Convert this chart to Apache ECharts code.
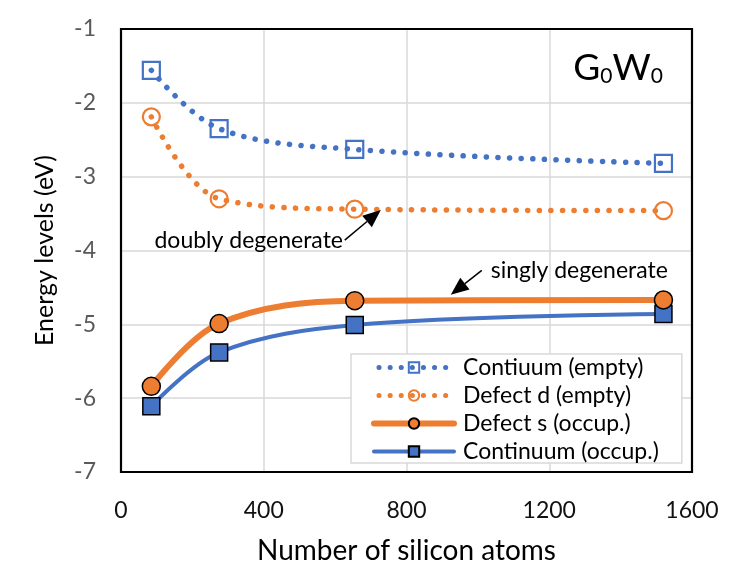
<!DOCTYPE html>
<html><head><meta charset="utf-8">
<script src="https://cdn.jsdelivr.net/npm/echarts@6/dist/echarts.min.js"></script>
<style>html,body{margin:0;padding:0;background:#fff}#c{width:747px;height:579px}</style>
</head><body><div id="c"></div>
<script>
const atoms = [85, 275, 655, 1520];
const contEmpty = [-1.56, -2.35, -2.63, -2.82];
const defectD = [-2.19, -3.30, -3.44, -3.46];
const defectS = [-5.84, -4.99, -4.68, -4.67];
const contOcc = [-6.11, -5.38, -5.01, -4.86];
const xTicks = [0, 400, 800, 1200, 1600];
const yTicks = [-7, -6, -5, -4, -3, -2, -1];
const names = ['Contiuum (empty)', 'Defect d (empty)', 'Defect s (occup.)', 'Continuum (occup.)'];

const BLUE = '#4472C4', ORANGE = '#ED7D31';
const FONT = 'Lato';
const pts = v => atoms.map((x, i) => [x, v[i]]);
const dotted = { type: [0.1, 11.5], cap: 'round', width: 5.5 };
const legendDotted = { type: [0.1, 11], cap: 'round', width: 5, dashOffset: -5 };
const SMOOTH = 0.35;

const chart = echarts.init(document.getElementById('c'), null, { renderer: 'canvas' });
chart.setOption({
  animation: false,
  textStyle: { fontFamily: FONT },
  grid: { left: 121, right: 55, top: 29, bottom: 107 },
  xAxis: {
    type: 'value', min: xTicks[0], max: xTicks[xTicks.length - 1], interval: 400,
    axisLine: { show: false }, axisTick: { show: false },
    splitLine: { lineStyle: { color: '#d9d9d9', width: 1.5 } },
    axisLabel: { color: '#111', fontSize: 23, margin: 27, fontFamily: FONT, formatter: v => String(v) },
    name: 'Number of silicon atoms', nameLocation: 'middle', nameGap: 65,
    nameTextStyle: { color: '#000', fontSize: 28, fontFamily: FONT }
  },
  yAxis: {
    type: 'value', min: yTicks[0], max: yTicks[yTicks.length - 1], interval: 1,
    axisLine: { show: false }, axisTick: { show: false },
    splitLine: { lineStyle: { color: '#d9d9d9', width: 1.5 } },
    axisLabel: { color: '#595959', fontSize: 23, margin: 25, fontFamily: FONT },
    name: 'Energy levels (eV)', nameLocation: 'middle', nameGap: 64,
    nameTextStyle: { color: '#000', fontSize: 25, fontFamily: FONT }
  },
  legend: {
    orient: 'vertical', left: 351, top: 354,
    backgroundColor: '#fff', borderColor: '#d9d9d9', borderWidth: 1.5,
    padding: [2, 23, 0, 20], itemGap: 5, itemWidth: 80, itemHeight: 13,
    textStyle: { fontSize: 23, color: '#000', fontFamily: FONT, padding: [0, 0, 0, 4] },
    data: [
      { name: names[0], lineStyle: Object.assign({ color: BLUE }, legendDotted) },
      { name: names[1], lineStyle: Object.assign({ color: ORANGE }, legendDotted) },
      { name: names[2], lineStyle: { color: ORANGE, width: 6, cap: 'round' } },
      { name: names[3], lineStyle: { color: BLUE, width: 4, cap: 'round' } }
    ]
  },
  series: [
    { name: names[0], type: 'line', smooth: SMOOTH, data: pts(contEmpty),
      symbol: 'rect', symbolSize: 17,
      itemStyle: { color: 'rgba(255,255,255,0)', borderColor: BLUE, borderWidth: 2.2 },
      lineStyle: Object.assign({ color: BLUE }, dotted), z: 3 },
    { name: names[1], type: 'line', smooth: SMOOTH, data: pts(defectD),
      symbol: 'circle', symbolSize: 17,
      itemStyle: { color: 'rgba(255,255,255,0)', borderColor: ORANGE, borderWidth: 2.2 },
      lineStyle: Object.assign({ color: ORANGE }, dotted), z: 3 },
    { name: names[2], type: 'line', smooth: SMOOTH, data: pts(defectS),
      symbol: 'circle', symbolSize: 18,
      itemStyle: { color: ORANGE, borderColor: '#000', borderWidth: 1.5 },
      lineStyle: { color: ORANGE, width: 6 }, z: 4 },
    { name: names[3], type: 'line', smooth: SMOOTH, data: pts(contOcc),
      symbol: 'rect', symbolSize: 17,
      itemStyle: { color: BLUE, borderColor: '#000', borderWidth: 1.5 },
      lineStyle: { color: BLUE, width: 4 }, z: 3 }
  ]
});

function arrow(from, to) {
  const a = chart.convertToPixel({ gridIndex: 0 }, from);
  const b = chart.convertToPixel({ gridIndex: 0 }, to);
  const dx = b[0] - a[0], dy = b[1] - a[1];
  const L = Math.hypot(dx, dy), ux = dx / L, uy = dy / L;
  const hl = 18, hw = 7.5;
  const base = [b[0] - ux * hl, b[1] - uy * hl];
  return [
    { type: 'line', shape: { x1: a[0], y1: a[1], x2: base[0], y2: base[1] }, style: { stroke: '#000', lineWidth: 1.5 }, z: 10 },
    { type: 'polygon', shape: { points: [b, [base[0] - uy * hw, base[1] + ux * hw], [base[0] + uy * hw, base[1] - ux * hw]] }, style: { fill: '#000' }, z: 10 }
  ];
}
const p0 = chart.convertToPixel({ gridIndex: 0 }, [xTicks[0], yTicks[yTicks.length - 1]]);
const p1 = chart.convertToPixel({ gridIndex: 0 }, [xTicks[xTicks.length - 1], yTicks[0]]);
const t1 = chart.convertToPixel({ gridIndex: 0 }, [622, -3.86]);
const t2 = chart.convertToPixel({ gridIndex: 0 }, [1036, -4.27]);
chart.setOption({
  graphic: [
    { type: 'rect', shape: { x: p0[0], y: p0[1], width: p1[0] - p0[0], height: p1[1] - p0[1] },
      style: { fill: 'none', stroke: '#000', lineWidth: 2.2 }, z: 2, silent: true },
    { type: 'text', right: 84, top: 50, z: 10,
      style: { text: '{a|G}{b|0}{a|W}{b|0}', fill: '#000',
        rich: { a: { fontSize: 37, fontFamily: FONT, verticalAlign: 'bottom', lineHeight: 42 },
                b: { fontSize: 21, fontFamily: FONT, verticalAlign: 'bottom', lineHeight: 35 } } } },
    { type: 'text', x: t1[0], y: t1[1], z: 10,
      style: { text: 'doubly degenerate', fontSize: 23, fontFamily: FONT, fill: '#000', align: 'right', verticalAlign: 'middle' } },
    { type: 'text', x: t2[0], y: t2[1], z: 10,
      style: { text: 'singly degenerate', fontSize: 23, fontFamily: FONT, fill: '#000', align: 'left', verticalAlign: 'middle' } },
    ...arrow([627, -3.86], [728, -3.45]),
    ...arrow([1011, -4.27], [924, -4.60])
  ]
});
</script></body></html>
